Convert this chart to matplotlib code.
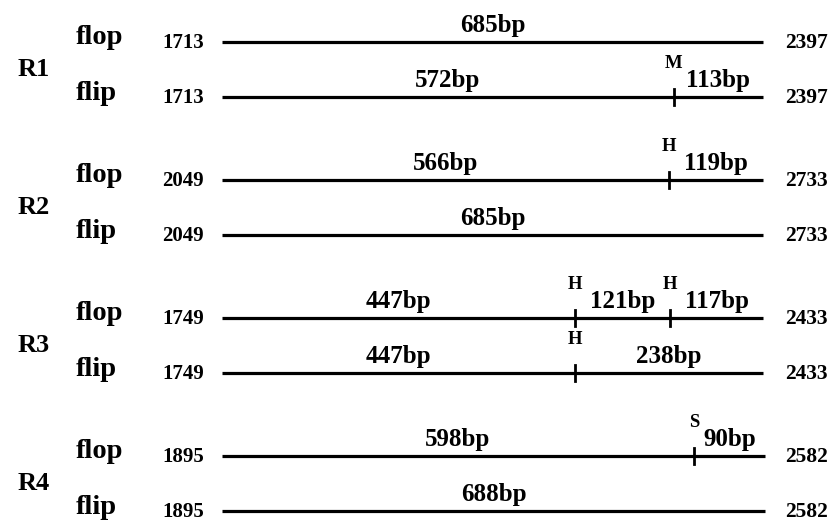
import matplotlib
matplotlib.use("Agg")
import matplotlib.pyplot as plt

plt.rcParams['font.family'] = ['Liberation Serif', 'DejaVu Serif']
plt.rcParams['font.weight'] = 'bold'

# Data
regions = ["R1", "R2", "R3", "R4"]
starts = [1713, 2049, 1749, 1895]
ends = [2397, 2733, 2433, 2582]
flop_frags = [[685], [566, 119], [447, 121, 117], [598, 90]]
flop_sites = [[], ["H"], ["H", "H"], ["S"]]
flip_frags = [[572, 113], [685], [447, 238], [688]]
flip_sites = [["M"], [], ["H"], []]

# Layout (pixels)
W, H = 830, 526
x0_px = 222
px_per_bp = 540 / 684
top_y, group_gap, pair_gap = 42, 138, 55

fig = plt.figure(figsize=(W / 100, H / 100), dpi=100)
ax = fig.add_axes([0, 0, 1, 1])
ax.axis('off')
ax.set_xlim(-x0_px / px_per_bp, (W - x0_px) / px_per_bp)
ax.set_ylim(H, 0)
left = ax.get_yaxis_transform()  # x in axes fraction, y in data


def draw_row(y, name, start, end, frags, sites):
    total = sum(frags)
    ax.plot([0, total], [y, y], color='black', lw=2.3, solid_capstyle='butt')
    ax.text(76 / W, y - 4, name, transform=left, fontsize=20.5,
            ha='left', va='center')
    ax.text(204 / W, y + 1, str(start), transform=left, fontsize=15,
            ha='right', va='center')
    ax.text(785 / W, y + 1, str(end), transform=left, fontsize=15.5,
            ha='left', va='center')
    pos = 0
    for i, f in enumerate(frags):
        ax.text(pos + f / 2, y - 5, f"{f}bp", fontsize=18,
                ha='center', va='bottom')
        pos += f
        if i < len(sites):
            ax.plot([pos, pos], [y - 8, y + 8], color='black', lw=2)
            ax.text(pos, y - 25, sites[i], fontsize=13.5,
                    ha='center', va='bottom')


for g, reg in enumerate(regions):
    y_flop = top_y + g * group_gap
    y_flip = y_flop + pair_gap
    draw_row(y_flop, "flop", starts[g], ends[g], flop_frags[g], flop_sites[g])
    draw_row(y_flip, "flip", starts[g], ends[g], flip_frags[g], flip_sites[g])
    ax.text(34 / W, (y_flop + y_flip) / 2, reg, transform=left,
            fontsize=19, ha='center', va='center')

fig.savefig("out.png", dpi=100)
